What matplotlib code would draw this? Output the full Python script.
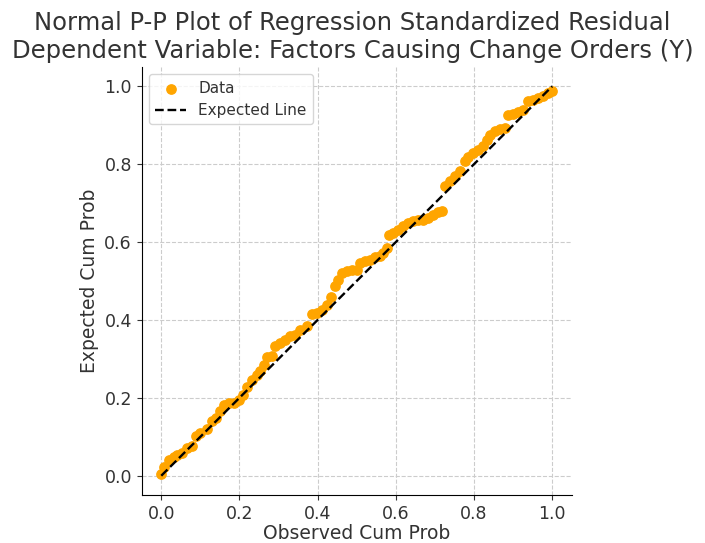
import matplotlib.pyplot as plt

observed = [0.000, 0.007, 0.020, 0.032, 0.041, 0.054, 0.066, 0.079, 0.088, 0.100,
            0.117, 0.130, 0.141, 0.151, 0.160, 0.173, 0.185, 0.198, 0.209, 0.219,
            0.232, 0.245, 0.253, 0.262, 0.270, 0.283, 0.292, 0.304, 0.317, 0.330,
            0.343, 0.355, 0.372, 0.385, 0.398, 0.411, 0.423, 0.434, 0.445, 0.453,
            0.462, 0.474, 0.487, 0.500, 0.509, 0.521, 0.534, 0.547, 0.560, 0.568,
            0.577, 0.583, 0.594, 0.606, 0.619, 0.632, 0.645, 0.657, 0.670, 0.683,
            0.696, 0.708, 0.717, 0.725, 0.738, 0.751, 0.764, 0.776, 0.785, 0.798,
            0.810, 0.823, 0.832, 0.840, 0.853, 0.866, 0.878, 0.887, 0.900, 0.912,
            0.925, 0.938, 0.951, 0.963, 0.976, 0.989, 1.000]
expected = [0.004, 0.022, 0.041, 0.048, 0.054, 0.058, 0.071, 0.077, 0.103, 0.110,
            0.120, 0.140, 0.148, 0.165, 0.182, 0.187, 0.188, 0.195, 0.208, 0.229,
            0.247, 0.259, 0.268, 0.285, 0.305, 0.307, 0.332, 0.342, 0.349, 0.358,
            0.362, 0.375, 0.384, 0.414, 0.418, 0.426, 0.439, 0.459, 0.486, 0.503,
            0.521, 0.525, 0.527, 0.529, 0.546, 0.551, 0.555, 0.562, 0.565, 0.572,
            0.585, 0.619, 0.623, 0.632, 0.640, 0.649, 0.655, 0.656, 0.656, 0.662,
            0.670, 0.676, 0.679, 0.743, 0.756, 0.769, 0.782, 0.807, 0.818, 0.829,
            0.837, 0.846, 0.863, 0.876, 0.884, 0.889, 0.893, 0.927, 0.930, 0.933,
            0.940, 0.961, 0.966, 0.970, 0.974, 0.983, 0.989]
line_ends = [0, 1]

fig = plt.figure(figsize=(7.05, 5.43), dpi=100)
ax = fig.add_axes([0.201, 0.088, 0.610, 0.789])

ax.scatter(observed, expected, color='orange', s=45, label='Data', zorder=3)
ax.plot(line_ends, line_ends, 'k--', linewidth=1.7, label='Expected Line', zorder=4)

ax.set_xlim(-0.05, 1.05)
ax.set_ylim(-0.05, 1.05)
ax.set_xticks([0, 0.2, 0.4, 0.6, 0.8, 1.0])
ax.set_yticks([0, 0.2, 0.4, 0.6, 0.8, 1.0])
ax.grid(True, linestyle='--', color='#cccccc', linewidth=0.8)
ax.set_axisbelow(True)
for s in ['top', 'right']:
    ax.spines[s].set_visible(False)
ax.tick_params(labelsize=12.5, colors='#333333')
ax.set_xlabel('Observed Cum Prob', fontsize=13.5, color='#333333', labelpad=1)
ax.set_ylabel('Expected Cum Prob', fontsize=13.5, color='#333333')
fig.suptitle('Normal P-P Plot of Regression Standardized Residual\n'
             'Dependent Variable: Factors Causing Change Orders (Y)',
             fontsize=17.5, color='#333333', y=0.979)
leg = ax.legend(loc='upper left', fontsize=11)
for t in leg.get_texts():
    t.set_color('#333333')

plt.savefig('out.png', dpi=100)
